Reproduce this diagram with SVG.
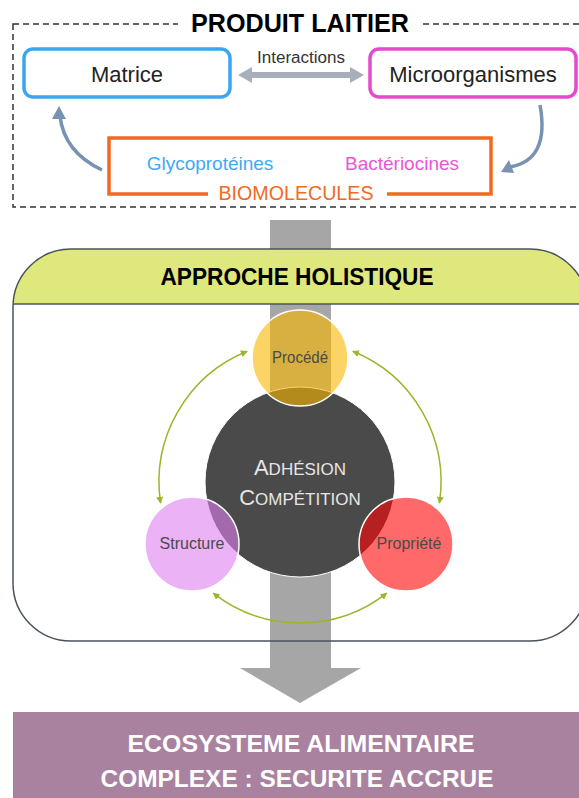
<svg xmlns="http://www.w3.org/2000/svg" width="579" height="798" viewBox="0 0 579 798">
<defs>
<style>
.t{font-family:"Liberation Sans",Arial,sans-serif}
.b{font-weight:bold}
.box{fill:#fff;stroke-width:3.5}
.green{fill:none;stroke:#9DB52A;stroke-width:1.5}
.steel{fill:none;stroke:#7892B2;stroke-width:3.5}
.lbl{font-size:16px;fill:#4A4A4A}
</style>
<marker id="gh" viewBox="0 0 10 10" refX="9" refY="5" markerWidth="7" markerHeight="7" markerUnits="userSpaceOnUse" orient="auto-start-reverse">
<path d="M0,0 L10,5 L0,10 Z" fill="#9DB52A"/>
</marker>
<clipPath id="hdr"><rect x="0" y="240" width="600" height="64"/></clipPath>
</defs>
<rect width="579" height="798" fill="#fff"/>

<g id="produit-laitier">
<rect x="13" y="24" width="600" height="183" fill="none" stroke="#333" stroke-width="1.5" stroke-dasharray="6 4"/>
<rect x="178" y="0" width="244" height="45" fill="#fff"/>
<text class="t b" x="300" y="32" font-size="25" text-anchor="middle" textLength="218" lengthAdjust="spacingAndGlyphs">PRODUIT LAITIER</text>
</g>

<g id="matrice">
<rect class="box" x="24" y="49" width="206" height="48" rx="9" stroke="#3AA6F2"/>
<text class="t" x="127" y="82" font-size="22" text-anchor="middle" fill="#222">Matrice</text>
</g>

<g id="microorganismes">
<rect class="box" x="370" y="49" width="206" height="48" rx="9" stroke="#E44ACB"/>
<text class="t" x="473" y="82" font-size="22" text-anchor="middle" fill="#222">Microorganismes</text>
</g>

<g id="biomolecules">
<rect x="109" y="138" width="382" height="56" fill="#fff" stroke="#F26A1E" stroke-width="3.5"/>
<text class="t" x="210" y="170" font-size="19" text-anchor="middle" fill="#3EA9F5">Glycoprotéines</text>
<text class="t" x="402" y="170" font-size="19" text-anchor="middle" fill="#EB55D8">Bactériocines</text>
<rect x="208" y="175" width="179" height="28" rx="5" fill="#fff"/>
<text class="t" x="296" y="200" font-size="20" text-anchor="middle" fill="#F26A1E" textLength="155" lengthAdjust="spacingAndGlyphs">BIOMOLECULES</text>
</g>

<g id="connectors">
<polygon points="238,75 252,67 252,72 350,72 350,67 364,75 350,83 350,78 252,78 252,83" fill="#A8AFBA"/>
<text class="t" x="301" y="63" font-size="16" text-anchor="middle" fill="#333" textLength="88" lengthAdjust="spacingAndGlyphs">Interactions</text>
<path class="steel" d="M102,170 Q64,152 60,116"/>
<polygon points="59,106 52,119 66,119" fill="#7892B2"/>
<path class="steel" d="M540,105 Q550,160 510,167"/>
<polygon points="501,172 509,160 514,173" fill="#7892B2"/>
</g>

<g id="fleche">
<polygon points="270,220 331,220 331,668 361,668 300,703 240,668 270,668" fill="#A6A6A6"/>
</g>

<g id="approche-holistique">
<path d="M13,641 L13,307 A58,58 0 0 1 71,249 L530,249 A58,58 0 0 1 588,307 L588,583 A58,58 0 0 1 530,641 L71,641 A58,58 0 0 1 13,583 Z" fill="#DEE87C" clip-path="url(#hdr)"/>
<path d="M13,583 L13,307 A58,58 0 0 1 71,249 L530,249 A58,58 0 0 1 588,307 L588,583 A58,58 0 0 1 530,641 L71,641 A58,58 0 0 1 13,583 Z" fill="none" stroke="#4A535C" stroke-width="1.5"/>
<line x1="13" y1="304" x2="588" y2="304" stroke="#4A535C" stroke-width="1.5"/>
<text class="t b" x="297" y="285" font-size="23" text-anchor="middle" textLength="273" lengthAdjust="spacingAndGlyphs">APPROCHE HOLISTIQUE</text>
</g>

<g id="adhesion-competition">
<circle cx="300" cy="482" r="95" fill="#4A4A4A" stroke="#fff" stroke-width="1"/>
<text class="t" x="300" y="475" text-anchor="middle" fill="#E6E6E6"><tspan font-size="22">A</tspan><tspan font-size="17">DHÉSION</tspan></text>
<text class="t" x="300" y="505" text-anchor="middle" fill="#E6E6E6"><tspan font-size="22">C</tspan><tspan font-size="17">OMPÉTITION</tspan></text>
</g>

<g id="procede">
<circle cx="300" cy="358" r="48" fill="#FAB700" fill-opacity="0.6" stroke="#fff" stroke-width="1.5"/>
<text class="t lbl" x="300" y="363" text-anchor="middle" textLength="56" lengthAdjust="spacingAndGlyphs">Procédé</text>
</g>

<g id="structure">
<circle cx="192" cy="544" r="47" fill="#DD80EE" fill-opacity="0.6" stroke="#fff" stroke-width="1.5"/>
<text class="t lbl" x="192" y="549" text-anchor="middle">Structure</text>
</g>

<g id="propriete">
<circle cx="406" cy="544" r="47" fill="#FF0505" fill-opacity="0.6" stroke="#fff" stroke-width="1.5"/>
<text class="t lbl" x="409" y="549" text-anchor="middle">Propriété</text>
</g>

<g id="cycle-connectors">
<path class="green" d="M160.6,503.1 A141,141 0 0 1 247.2,351.3" marker-start="url(#gh)" marker-end="url(#gh)"/>
<path class="green" d="M352.8,351.3 A141,141 0 0 1 439.4,503.1" marker-start="url(#gh)" marker-end="url(#gh)"/>
<path class="green" d="M213.2,593.1 A141,141 0 0 0 386.8,593.1" marker-start="url(#gh)" marker-end="url(#gh)"/>
</g>

<g id="ecosysteme">
<rect x="13" y="712" width="600" height="90" fill="#A9829F"/>
<text class="t b" x="301" y="752" font-size="24" text-anchor="middle" fill="#fff" textLength="347" lengthAdjust="spacingAndGlyphs">ECOSYSTEME ALIMENTAIRE</text>
<text class="t b" x="297" y="787" font-size="24" text-anchor="middle" fill="#fff" textLength="393" lengthAdjust="spacingAndGlyphs">COMPLEXE : SECURITE ACCRUE</text>
</g>
</svg>
